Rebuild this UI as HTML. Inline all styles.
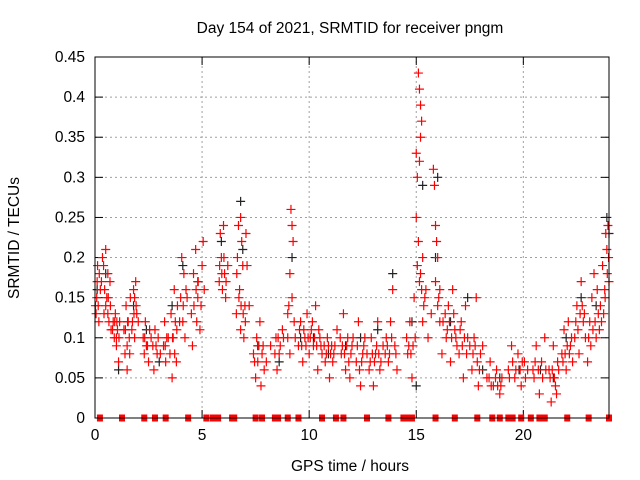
<!DOCTYPE html>
<html><head><meta charset="utf-8"><style>
body{margin:0;background:#fff}
svg{display:block;font-family:"Liberation Sans",sans-serif}
</style></head><body>
<svg id="c" width="640" height="480">
<rect width="640" height="480" fill="#fff"/>
<text x="350" y="33" text-anchor="middle" font-size="15.5">Day 154 of 2021, SRMTID for receiver pngm</text>
<text x="350" y="471" text-anchor="middle" font-size="15.5">GPS time / hours</text>
<text transform="translate(19,238) rotate(-90)" text-anchor="middle" font-size="15.5">SRMTID / TECUs</text>
<g id="grid"></g><g id="ticks"></g><g id="marks"></g>
<rect x="95" y="57" width="514" height="361" fill="none" stroke="#000" stroke-width="1"/>
</svg>
<script>
const xTicks=[0,5,10,15,20];
const yTicks=[0,0.05,0.1,0.15,0.2,0.25,0.3,0.35,0.4,0.45];
const yTickLabels=["0","0.05","0.1","0.15","0.2","0.25","0.3","0.35","0.4","0.45"];
const redPts=[
[0.05,0.13],[0.08,0.15],[0.1,0.17],[0.12,0.19],[0.15,0.14],[0.18,0.12],[0.2,0.18],[0.25,0.16],
[0.35,0.2],[0.4,0.19],[0.45,0.16],[0.5,0.14],[0.55,0.15],[0.6,0.13],[0.65,0.12],[0.7,0.17],[0.75,0.11],[0.5,0.21],[0.6,0.18],
[0.85,0.12],[0.9,0.1],[0.95,0.13],[1.0,0.09],[1.05,0.11],[1.1,0.07],[1.15,0.12],[1.0,0.1],
[1.35,0.11],[1.4,0.08],[1.45,0.14],[1.5,0.06],[1.55,0.12],[1.6,0.1],[1.65,0.15],[1.5,0.09],
[1.75,0.12],[1.8,0.16],[1.85,0.1],[1.9,0.17],[1.95,0.13],[1.85,0.15],
[2.25,0.1],[2.3,0.08],[2.35,0.12],[2.4,0.09],[2.5,0.07],[2.55,0.11],
[2.7,0.09],[2.75,0.06],[2.8,0.11],[2.9,0.08],[2.95,0.1],
[3.2,0.09],[3.25,0.12],[3.3,0.07],[3.35,0.1],
[3.5,0.08],[3.55,0.13],[3.6,0.05],[3.65,0.1],[3.7,0.16],[3.75,0.12],[3.8,0.07],[3.85,0.14],
[4.0,0.15],[4.05,0.2],[4.1,0.12],[4.15,0.18],[4.2,0.1],[4.25,0.16],
[4.5,0.13],[4.55,0.09],[4.6,0.18],[4.7,0.21],[4.8,0.15],[4.9,0.11],[5.0,0.19],[5.05,0.22],[4.75,0.12],
[5.8,0.17],[5.85,0.23],[5.9,0.2],[5.95,0.16],[6.0,0.24],[6.05,0.18],[6.1,0.15],
[6.6,0.13],[6.65,0.2],[6.7,0.24],[6.75,0.16],[6.8,0.11],[6.85,0.22],[6.9,0.19],[6.95,0.1],[7.0,0.14],[7.05,0.23],[6.8,0.25],
[7.4,0.08],[7.5,0.05],[7.55,0.1],[7.6,0.07],[7.7,0.12],[7.75,0.04],[7.85,0.09],[7.9,0.06],
[8.4,0.08],[8.5,0.06],[8.55,0.1],[8.65,0.09],[8.75,0.11],
[9.0,0.1],[9.05,0.14],[9.1,0.18],[9.15,0.26],[9.2,0.24],[9.25,0.22],[9.3,0.12],[9.1,0.08],
[9.5,0.09],[9.6,0.12],[9.7,0.07],[9.8,0.1],[9.9,0.13],[10.0,0.08],[10.1,0.11],[10.2,0.09],[10.3,0.14],[10.4,0.06],[10.5,0.1],[10.6,0.08],[9.75,0.11],[10.15,0.12],
[10.75,0.07],[10.85,0.1],[10.95,0.05],[11.05,0.09],[11.15,0.08],[11.3,0.11],
[11.5,0.08],[11.6,0.13],[11.7,0.06],[11.8,0.1],[11.9,0.05],[12.0,0.09],
[12.2,0.07],[12.3,0.12],[12.4,0.04],[12.5,0.08],[12.6,0.1],
[12.8,0.06],[12.9,0.1],[13.0,0.04],[13.1,0.08],[13.2,0.12],[13.3,0.06],[13.45,0.09],
[13.6,0.1],[13.7,0.07],[13.8,0.12],[13.9,0.16],[14.0,0.09],[14.1,0.06],
[14.6,0.08],[14.7,0.12],[14.8,0.05],[14.9,0.15],[14.95,0.1],[15.0,0.33],[15.05,0.3],
[15.1,0.43],[15.15,0.41],[15.2,0.39],[15.25,0.37],[15.2,0.35],[15.15,0.32],[15.0,0.25],[15.1,0.22],[15.3,0.2],[15.2,0.18],[15.4,0.15],[15.3,0.12],
[15.8,0.31],[15.85,0.29],[15.9,0.24],[15.95,0.22],[16.0,0.2],[16.05,0.15],[16.1,0.12],[16.2,0.08],
[16.4,0.1],[16.5,0.14],[16.6,0.07],[16.7,0.16],[16.8,0.11],[16.9,0.09],
[17.0,0.08],[17.1,0.12],[17.2,0.05],[17.3,0.14],[17.4,0.1],
[17.6,0.06],[17.7,0.1],[17.8,0.15],[17.9,0.04],[18.0,0.08],
[18.3,0.05],[18.45,0.07],[18.6,0.04],[18.75,0.06],[18.9,0.03],[19.0,0.05],
[19.3,0.06],[19.45,0.09],[19.6,0.05],[19.75,0.08],[19.9,0.04],[20.05,0.07],[20.2,0.06],
[20.5,0.05],[20.6,0.09],[20.75,0.03],[20.85,0.07],[21.0,0.1],
[21.2,0.06],[21.3,0.02],[21.4,0.09],[21.5,0.04],[21.6,0.07],
[21.8,0.08],[21.9,0.11],[22.0,0.06],[22.1,0.12],[22.2,0.09],[22.3,0.07],
[22.4,0.1],[22.5,0.14],[22.6,0.08],[22.7,0.17],[22.8,0.12],[22.9,0.1],
[23.0,0.07],[23.1,0.12],[23.2,0.15],[23.3,0.18],[23.4,0.1],[23.5,0.13],
[23.6,0.14],[23.7,0.19],[23.8,0.16],[23.85,0.23],[23.9,0.21],[23.95,0.24],[24.0,0.17]
];
const redPts2=[
[0.02,0.14],[0.3,0.17],[0.42,0.13],[0.62,0.15],[0.72,0.14],[0.82,0.11],[0.92,0.12],[1.02,0.12],[1.12,0.1],
[1.42,0.11],[1.52,0.12],[1.62,0.08],[1.72,0.11],[1.82,0.13],[1.92,0.14],[2.02,0.12],[2.32,0.1],[2.45,0.09],[2.62,0.1],
[2.85,0.09],[3.05,0.08],[3.28,0.09],[3.42,0.1],[3.62,0.1],[3.72,0.08],[3.82,0.11],[3.95,0.12],[4.12,0.14],[4.3,0.15],
[4.62,0.14],[4.72,0.16],[4.82,0.17],[4.95,0.14],[5.1,0.16],[5.82,0.19],[5.92,0.18],[6.02,0.2],[6.12,0.17],[6.2,0.19],
[6.62,0.18],[6.72,0.15],[6.82,0.14],[6.92,0.13],[7.02,0.12],[7.1,0.19],[7.2,0.14],[7.45,0.07],[7.65,0.09],[7.8,0.08],[8.0,0.07],
[8.2,0.09],[8.45,0.1],[8.6,0.08],[8.8,0.1],[9.0,0.13],[9.2,0.15],[9.35,0.1],[9.55,0.11],[9.65,0.09],[9.85,0.09],[9.95,0.1],
[10.05,0.1],[10.25,0.1],[10.35,0.09],[10.45,0.11],[10.55,0.09],[10.7,0.09],[10.8,0.08],[10.9,0.09],[11.0,0.08],[11.1,0.07],[11.2,0.09],
[11.45,0.1],[11.55,0.09],[11.65,0.08],[11.75,0.09],[11.85,0.07],[11.95,0.08],[12.05,0.1],[12.25,0.09],[12.35,0.06],[12.45,0.07],[12.55,0.09],
[12.7,0.08],[12.85,0.07],[12.95,0.08],[13.05,0.07],[13.15,0.09],[13.25,0.08],[13.35,0.07],[13.55,0.08],[13.65,0.09],[13.75,0.08],[13.85,0.1],
[14.05,0.08],[14.55,0.1],[14.65,0.09],[14.75,0.08],[14.85,0.09],[15.05,0.19],[15.15,0.17],[15.25,0.16],[15.35,0.14],[15.45,0.16],[15.55,0.1],
[15.7,0.13],[15.9,0.17],[16.0,0.14],[16.1,0.16],[16.25,0.12],[16.35,0.13],[16.45,0.11],[16.55,0.12],[16.65,0.1],[16.75,0.13],[16.85,0.1],
[17.05,0.11],[17.15,0.09],[17.25,0.1],[17.35,0.08],[17.5,0.09],[17.65,0.08],[17.75,0.09],[17.85,0.07],[17.95,0.06],[18.1,0.09],
[18.4,0.05],[18.5,0.04],[18.7,0.05],[18.8,0.04],[18.95,0.04],[19.35,0.05],[19.5,0.07],[19.65,0.06],[19.85,0.06],[19.95,0.07],[20.1,0.05],
[20.45,0.06],[20.55,0.07],[20.7,0.06],[20.9,0.05],[21.05,0.06],[21.25,0.05],[21.35,0.06],[21.45,0.05],[21.55,0.03],[21.65,0.06],
[21.85,0.07],[21.95,0.08],[22.05,0.09],[22.15,0.08],[22.25,0.1],[22.45,0.12],[22.55,0.11],[22.65,0.13],[22.75,0.14],[22.85,0.13],
[23.05,0.1],[23.15,0.09],[23.25,0.11],[23.35,0.12],[23.45,0.16],[23.55,0.11],[23.65,0.12],[23.75,0.13],[23.82,0.15],[23.92,0.18],[23.98,0.2]
];
const blackPts=[
[0.1,0.16],[0.5,0.18],[1.1,0.06],[1.8,0.14],[2.4,0.11],[3.0,0.07],[3.6,0.14],[4.1,0.19],[4.8,0.17],
[5.9,0.22],[6.8,0.27],[6.9,0.21],[7.6,0.09],[8.6,0.07],[9.2,0.2],[9.6,0.1],[10.2,0.1],[10.9,0.08],
[11.7,0.09],[12.4,0.1],[13.2,0.11],[13.9,0.18],[14.8,0.12],[15.0,0.04],[15.3,0.29],[15.9,0.2],[16.0,0.3],
[16.6,0.12],[17.4,0.15],[18.1,0.06],[18.9,0.05],[19.8,0.06],[20.8,0.06],[21.4,0.05],[22.0,0.1],
[22.7,0.15],[23.4,0.14],[23.9,0.25],[24.0,0.23]
];
const flagTimes=[0.23,1.26,2.3,2.8,3.3,4.35,5.2,5.5,5.75,6.4,6.5,7.5,7.8,8.4,8.5,8.55,9.0,9.5,10.6,11.25,11.6,12.7,13.7,14.4,14.55,14.8,15.9,16.8,17.85,18.55,18.9,19.3,19.5,19.9,20.35,20.75,21.0,22.05,23.05,24.0];

const X0=95,X1=609,Y0=418,Y1=57;
const xs=t=>X0+t*(X1-X0)/24, ys=v=>Y0-v*(Y0-Y1)/0.45;
const NS="http://www.w3.org/2000/svg";
function mk(tag,attrs,parent){const e=document.createElementNS(NS,tag);for(const k in attrs)e.setAttribute(k,attrs[k]);parent.appendChild(e);return e;}
const grid=document.getElementById('grid'),ticks=document.getElementById('ticks'),marks=document.getElementById('marks');
yTicks.forEach((v,i)=>{const y=ys(v);
 if(i>0&&i<yTicks.length-1){const g=mk('line',{x1:X0,x2:X1,y1:y,y2:y,stroke:'#a0a0a0','stroke-dasharray':'2,3'},grid);
 
 }
 mk('line',{x1:X0,x2:X0+8,y1:y,y2:y,stroke:'#000'},ticks);
 mk('line',{x1:X1,x2:X1-8,y1:y,y2:y,stroke:'#000'},ticks);
 const t=mk('text',{x:X0-10,y:y+5,'text-anchor':'end','font-size':'15.5'},ticks);t.textContent=yTickLabels[i];
 
 
});
xTicks.forEach(v=>{const x=xs(v);
 if(v>0){const g=mk('line',{x1:x,x2:x,y1:Y0,y2:Y1,stroke:'#a0a0a0','stroke-dasharray':'2,3'},grid);
 
 }
 mk('line',{x1:x,x2:x,y1:Y0,y2:Y0-8,stroke:'#000'},ticks);
 mk('line',{x1:x,x2:x,y1:Y1,y2:Y1+8,stroke:'#000'},ticks);
 const t=mk('text',{x:x,y:Y0+22,'text-anchor':'middle','font-size':'15.5'},ticks);t.textContent=String(v);
 
 
});
function plus(p,col,name){const x=xs(p[0]),y=ys(p[1]);
 const e=mk('path',{d:`M${x-4.5},${y}H${x+4.5}M${x},${y-4.5}V${y+4.5}`,stroke:col,'stroke-width':'1.2',fill:'none'},marks);
 
 }
blackPts.forEach(p=>plus(p,'#222','black-point'));
redPts.forEach(p=>plus(p,'#f00','red-point'));
redPts2.forEach(p=>plus(p,'#f00','red-point'));
flagTimes.forEach(t=>{const e=mk('rect',{x:xs(t)-3,y:Y0-3.5,width:6,height:7,fill:'#f00'},marks);
 
 });
</script>
</body></html>
